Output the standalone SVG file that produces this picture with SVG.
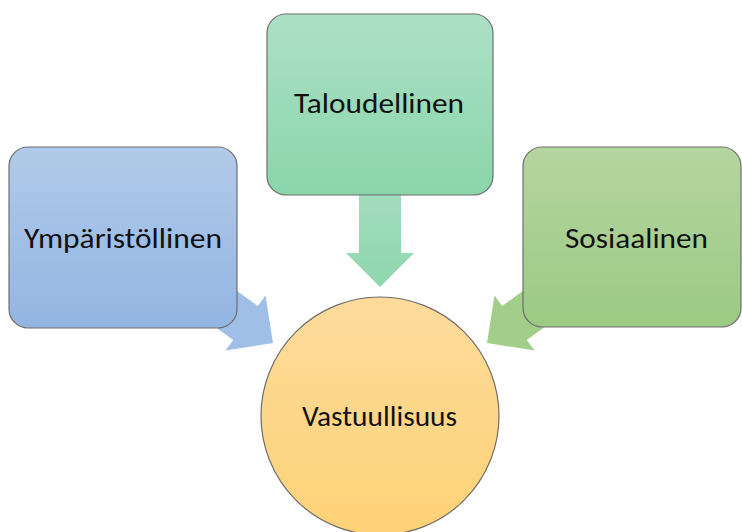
<svg xmlns="http://www.w3.org/2000/svg" width="742" height="532" viewBox="0 0 742 532">
<defs>
<linearGradient id="gBlue" x1="0" y1="0" x2="0" y2="1"><stop offset="0" stop-color="#b1cae9"/><stop offset="1" stop-color="#92b5e2"/></linearGradient>
<linearGradient id="gTeal" x1="0" y1="0" x2="0" y2="1"><stop offset="0" stop-color="#ace0c5"/><stop offset="1" stop-color="#8ad5ab"/></linearGradient>
<linearGradient id="gGreen" x1="0" y1="0" x2="0" y2="1"><stop offset="0" stop-color="#b5d5a0"/><stop offset="1" stop-color="#9bca82"/></linearGradient>
<linearGradient id="gOrange" x1="0" y1="0" x2="0" y2="1"><stop offset="0" stop-color="#fddb9c"/><stop offset="1" stop-color="#fed276"/></linearGradient>
<linearGradient id="aTeal" x1="0" y1="0" x2="0" y2="1"><stop offset="0" stop-color="#a3dcbd"/><stop offset="1" stop-color="#8ed6ae"/></linearGradient>
<path id="arrow" d="M0,0 L-34,-34 L-34,-21 L-110,-21 L-110,21 L-34,21 L-34,34 Z"/>
</defs>
<style>
.box{stroke:#6e6e6e;stroke-width:1.2}
.lbl{font-family:Carlito,Lato,"Liberation Sans",sans-serif;font-size:29px;fill:#111;text-anchor:middle}
</style>
<g id="connectors">
<use href="#arrow" transform="translate(273,343) rotate(36)" fill="#9fbfe6"/>
<use href="#arrow" transform="translate(487,343) rotate(144)" fill="#a3ce8a"/>
<path d="M359,195 L401,195 L401,253 L414,253 L380,287 L346,253 L359,253 Z" fill="url(#aTeal)"/>
</g>
<g id="ymparistollinen">
<rect class="box" x="9" y="147" width="228" height="181" rx="19" fill="url(#gBlue)"/>
<text class="lbl" x="123" y="248" textLength="198" lengthAdjust="spacingAndGlyphs">Ympäristöllinen</text>
</g>
<g id="taloudellinen">
<rect class="box" x="267" y="14" width="226" height="181" rx="19" fill="url(#gTeal)"/>
<text class="lbl" x="379" y="113" textLength="170" lengthAdjust="spacingAndGlyphs">Taloudellinen</text>
</g>
<g id="sosiaalinen">
<rect class="box" x="523" y="147" width="218" height="180" rx="19" fill="url(#gGreen)"/>
<text class="lbl" x="636.5" y="248" textLength="143" lengthAdjust="spacingAndGlyphs">Sosiaalinen</text>
</g>
<g id="vastuullisuus">
<circle class="box" cx="380" cy="416" r="119" fill="url(#gOrange)"/>
<text class="lbl" x="379.5" y="426" textLength="155" lengthAdjust="spacingAndGlyphs">Vastuullisuus</text>
</g>
</svg>
